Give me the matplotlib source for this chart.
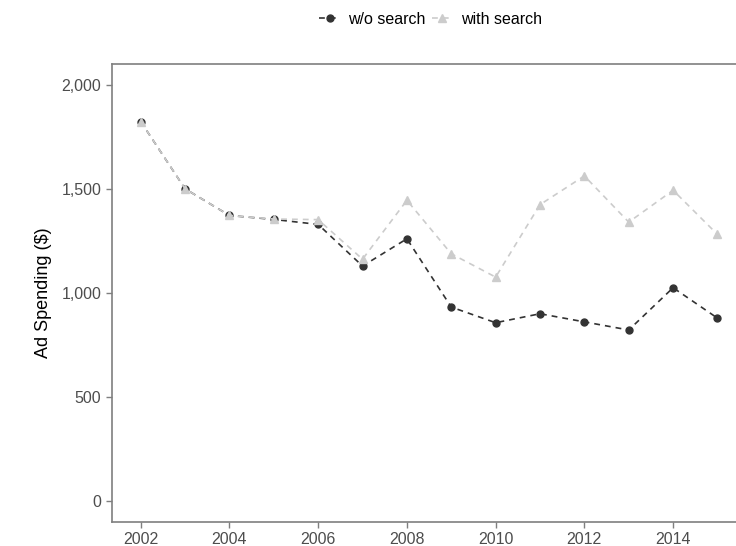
import matplotlib
matplotlib.use("Agg")
import matplotlib.pyplot as plt
from matplotlib.ticker import FuncFormatter

plt.rcParams["font.family"] = ["Liberation Sans", "DejaVu Sans"]

years = [2002, 2003, 2004, 2005, 2006, 2007, 2008, 2009, 2010, 2011, 2012, 2013, 2014, 2015]
wo_search = [1823, 1500, 1372, 1353, 1329, 1129, 1260, 932, 857, 900, 861, 822, 1025, 879]
with_search = [1823, 1500, 1372, 1355, 1352, 1162, 1445, 1188, 1076, 1424, 1562, 1340, 1493, 1281]

x_ticks = [2002, 2004, 2006, 2008, 2010, 2012, 2014]
y_ticks = [0, 500, 1000, 1500, 2000]

fig = plt.figure(figsize=(7.36, 5.46), dpi=100)
ax = fig.add_axes([0.152, 0.044, 0.862, 0.839])

ax.plot(years, wo_search, color="#333333", linestyle=(0, (3.5, 3)), linewidth=1.2,
        marker="o", markersize=5, label="w/o search")
ax.plot(years, with_search, color="#CCCCCC", linestyle=(0, (3.5, 3)), linewidth=1.2,
        marker="^", markersize=6, label="with search")

ax.set_xlim(2001.35, 2015.65)
ax.set_ylim(-100, 2100)
ax.set_xticks(x_ticks)
ax.set_yticks(y_ticks)
ax.yaxis.set_major_formatter(FuncFormatter(lambda v, p: f"{int(v):,}"))
ax.set_ylabel("Ad Spending ($)", fontsize=13, color="black", labelpad=7)

for s in ax.spines.values():
    s.set_color("#7F7F7F")
    s.set_linewidth(1.2)
ax.tick_params(colors="#4D4D4D", labelsize=11.5, length=4, width=1, color="#7F7F7F")

fig.legend(loc="center", bbox_to_anchor=(0.585, 0.965), ncol=2, frameon=False,
           fontsize=11.5, handlelength=1.3, handletextpad=0.5, columnspacing=0.4)

fig.savefig("out.png", dpi=100)
